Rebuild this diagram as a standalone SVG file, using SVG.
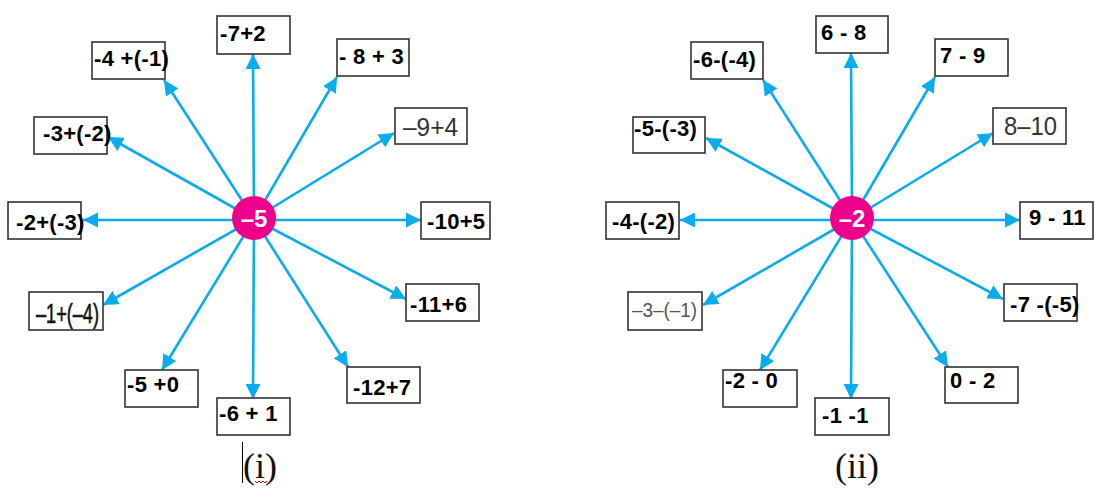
<svg xmlns="http://www.w3.org/2000/svg" width="1110" height="499" viewBox="0 0 1110 499">
<style>
.box{fill:#fff;stroke:#333;stroke-width:1.6}
.t{font-family:"Liberation Sans",Arial,sans-serif;font-weight:bold;font-size:22px;letter-spacing:0.3px;fill:#000}
.g{font-family:"Liberation Sans",Arial,sans-serif;font-size:26px;fill:#333}
.c{fill:#EC008C}
.ct{font-family:"Liberation Sans",Arial,sans-serif;font-weight:bold;font-size:24px;fill:#fff;text-anchor:middle}
.lab{font-family:"Liberation Serif","Times New Roman",serif;font-size:36px;fill:#111}
.ar{stroke:#0AACEB;stroke-width:2.6;fill:none;marker-end:url(#ah)}
</style>
<defs>
<marker id="ah" markerUnits="userSpaceOnUse" markerWidth="15" markerHeight="15" viewBox="0 0 15 15" refX="15" refY="7.5" orient="auto">
<path d="M0,0 L15,7.5 L0,15 z" fill="#0AACEB"/>
</marker>
</defs>
<g id="connectors">
<line class="ar" x1="254" y1="219" x2="253" y2="54"/>
<line class="ar" x1="254" y1="219" x2="164" y2="80"/>
<line class="ar" x1="254" y1="219" x2="337" y2="77"/>
<line class="ar" x1="254" y1="219" x2="394" y2="133"/>
<line class="ar" x1="254" y1="219" x2="108" y2="137"/>
<line class="ar" x1="254" y1="220" x2="83" y2="220"/>
<line class="ar" x1="254" y1="220" x2="421" y2="220"/>
<line class="ar" x1="254" y1="219" x2="103" y2="305"/>
<line class="ar" x1="254" y1="219" x2="406" y2="299"/>
<line class="ar" x1="254" y1="219" x2="162" y2="370"/>
<line class="ar" x1="254" y1="219" x2="253" y2="399"/>
<line class="ar" x1="254" y1="219" x2="348" y2="367"/>
<line class="ar" x1="852" y1="219" x2="851" y2="53"/>
<line class="ar" x1="852" y1="219" x2="763" y2="80"/>
<line class="ar" x1="852" y1="219" x2="935" y2="77"/>
<line class="ar" x1="852" y1="219" x2="993" y2="133"/>
<line class="ar" x1="852" y1="219" x2="706" y2="138"/>
<line class="ar" x1="852" y1="220" x2="680" y2="220"/>
<line class="ar" x1="852" y1="220" x2="1020" y2="220"/>
<line class="ar" x1="852" y1="219" x2="703" y2="305"/>
<line class="ar" x1="852" y1="219" x2="1003" y2="299"/>
<line class="ar" x1="852" y1="219" x2="760" y2="370"/>
<line class="ar" x1="852" y1="219" x2="851" y2="399"/>
<line class="ar" x1="852" y1="219" x2="948" y2="367"/>
</g>
<g id="center-left"><circle class="c" cx="254" cy="218" r="22"/><text class="ct" x="254" y="226.5">–5</text></g>
<g id="center-right"><circle class="c" cx="852" cy="218" r="22"/><text class="ct" x="852" y="226.5">–2</text></g>
<g id="l1"><rect class="box" x="217" y="16" width="73" height="38"/><text class="t" x="220" y="41">-7+2</text></g>
<g id="l2"><rect class="box" x="92" y="42" width="73" height="37"/><text class="t" x="94" y="66">-4 +(-1)</text></g>
<g id="l3"><rect class="box" x="337" y="39" width="72" height="37"/><text class="t" x="339" y="64">- 8 + 3</text></g>
<g id="l4"><rect class="box" x="395" y="108" width="72" height="36"/><text class="g" x="403" y="136" textLength="55" lengthAdjust="spacingAndGlyphs">–9+4</text></g>
<g id="l5"><rect class="box" x="34" y="117" width="73" height="37"/><text class="t" x="43" y="141">-3+(-2)</text></g>
<g id="l6"><rect class="box" x="8" y="202" width="73" height="37"/><text class="t" x="16" y="230">-2+(-3)</text></g>
<g id="l7"><rect class="box" x="421" y="202" width="69" height="37"/><text class="t" x="427" y="229">-10+5</text></g>
<g id="l8"><rect class="box" x="29" y="292" width="74" height="38"/><text class="t" x="36" y="323" style="font-size:27px;letter-spacing:0;font-weight:normal;fill:#111;stroke:#111;stroke-width:0.6" textLength="63" lengthAdjust="spacingAndGlyphs">–1+(–4)</text></g>
<g id="l9"><rect class="box" x="406" y="284" width="73" height="37"/><text class="t" x="410" y="312">-11+6</text></g>
<g id="l10"><rect class="box" x="125" y="370" width="73" height="37"/><text class="t" x="127" y="392">-5 +0</text></g>
<g id="l11"><rect class="box" x="217" y="398" width="73" height="37"/><text class="t" x="219" y="421">-6 + 1</text></g>
<g id="l12"><rect class="box" x="347" y="367" width="73" height="36"/><text class="t" x="353" y="395">-12+7</text></g>
<g id="r1"><rect class="box" x="816" y="16" width="72" height="37"/><text class="t" x="821" y="40">6 - 8</text></g>
<g id="r2"><rect class="box" x="691" y="42" width="72" height="37"/><text class="t" x="693" y="67">-6-(-4)</text></g>
<g id="r3"><rect class="box" x="935" y="39" width="73" height="37"/><text class="t" x="940" y="63">7 - 9</text></g>
<g id="r4"><rect class="box" x="993" y="108" width="73" height="36"/><text class="g" x="1004" y="135" textLength="53" lengthAdjust="spacingAndGlyphs">8–10</text></g>
<g id="r5"><rect class="box" x="633" y="117" width="72" height="36"/><text class="t" x="634" y="136">-5-(-3)</text></g>
<g id="r6"><rect class="box" x="606" y="202" width="73" height="37"/><text class="t" x="612" y="229">-4-(-2)</text></g>
<g id="r7"><rect class="box" x="1020" y="202" width="73" height="37"/><text class="t" x="1029" y="225">9 - 11</text></g>
<g id="r8"><rect class="box" x="628" y="292" width="74" height="38"/><text class="g" x="632" y="317" style="font-size:20px;fill:#555" textLength="65" lengthAdjust="spacingAndGlyphs">–3–(–1)</text></g>
<g id="r9"><rect class="box" x="1004" y="284" width="73" height="37"/><text class="t" x="1010" y="312">-7 -(-5)</text></g>
<g id="r10"><rect class="box" x="723" y="370" width="74" height="37"/><text class="t" x="725" y="388">-2 - 0</text></g>
<g id="r11"><rect class="box" x="815" y="398" width="74" height="37"/><text class="t" x="822" y="423">-1 -1</text></g>
<g id="r12"><rect class="box" x="945" y="367" width="73" height="36"/><text class="t" x="950" y="388">0 - 2</text></g>
<g id="label-i">
<text class="lab" x="243" y="478">(i)</text>
<line x1="242.5" y1="442" x2="242.5" y2="483" stroke="#000" stroke-width="1"/>
<path d="M255,481 l2,2 l2,-2 l2,2 l2,-2 l2,2 l2,-2" fill="none" stroke="#e00" stroke-width="1"/>
</g>
<g id="label-ii"><text class="lab" x="835" y="478">(ii)</text></g>
</svg>
